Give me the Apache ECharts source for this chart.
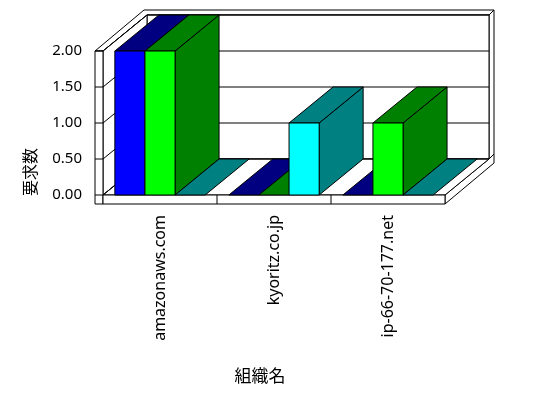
<!DOCTYPE html>
<html>
<head>
<meta charset="utf-8">
<title>組織名 / 要求数</title>
<script src="https://cdn.jsdelivr.net/npm/echarts/dist/echarts.min.js"></script>
<style>
    html, body { margin: 0; padding: 0; background: #fff; }
    #main { width: 548px; height: 398px; }
</style>
</head>
<body>
<div id="main"></div>
<script>
// data
var categories = ['amazonaws.com', 'kyoritz.co.jp', 'ip-66-70-177.net'];
var blueValues = [2, 0, 0];
var limeValues = [2, 0, 1];
var cyanValues = [0, 1, 0];
var yTicks = [0, 0.5, 1, 1.5, 2];

var yMax = 2;
// 3D depth offset of the plot, wall thickness etc (pixels)
var DX = 44, DY = -36;
var TX = 5, TY = -5;
var WALL = 8, FLOOR = 9;

var barSeries = [
    { values: blueValues, front: '#0000ff', dark: '#000080' },
    { values: limeValues, front: '#00ff00', dark: '#008000' },
    { values: cyanValues, front: '#00ffff', dark: '#008080' }
];

// [category, series, value], drawn left to right
var barData = [];
for (var c = 0; c < categories.length; c++) {
    for (var s = 0; s < barSeries.length; s++) {
        barData.push([c, s, barSeries[s].values[c]]);
    }
}

function lineStyle() {
    return { stroke: '#000', lineWidth: 1, fill: null };
}

function renderFrame(params, api) {
    var band = api.size([1, 0])[0];
    var c0 = api.coord([0, 0]);
    var L = c0[0] - band / 2;
    var R = L + band * categories.length;
    var Y0 = c0[1];
    var YT = api.coord([0, yMax])[1];
    var kids = [];
    function poly(pts, fill) {
        kids.push({ type: 'polygon', shape: { points: pts },
            style: { fill: fill || '#fff', stroke: '#000', lineWidth: 1 } });
    }
    function line(x1, y1, x2, y2) {
        kids.push({ type: 'line', shape: { x1: x1, y1: y1, x2: x2, y2: y2 }, style: lineStyle() });
    }
    // top of left wall + back wall
    poly([[L - WALL, YT], [L, YT], [L + DX, YT + DY], [R + DX, YT + DY],
          [R + DX + TX, YT + DY + TY], [L - WALL + DX + TX, YT + DY + TY]]);
    // right side of back wall and floor
    poly([[R, Y0], [R + DX, Y0 + DY], [R + DX, YT + DY], [R + DX + TX, YT + DY + TY],
          [R + DX + TX, Y0 + FLOOR + DY + TY], [R, Y0 + FLOOR]]);
    line(R + DX, Y0 + DY, R + DX + TX, Y0 + DY + TY);
    // back wall
    poly([[L + DX, YT + DY], [R + DX, YT + DY], [R + DX, Y0 + DY], [L + DX, Y0 + DY]]);
    // inner side of left wall
    poly([[L, YT], [L + DX, YT + DY], [L + DX, Y0 + DY], [L, Y0]]);
    // floor
    poly([[L, Y0], [R, Y0], [R + DX, Y0 + DY], [L + DX, Y0 + DY]]);
    // grid lines
    yTicks.forEach(function (v) {
        var y = api.coord([0, v])[1];
        line(L, y, L + DX, y + DY);
        line(L + DX, y + DY, R + DX, y + DY);
    });
    // front faces
    poly([[L - WALL, YT], [L, YT], [L, Y0 + FLOOR], [L - WALL, Y0 + FLOOR]]);
    poly([[L, Y0], [R, Y0], [R, Y0 + FLOOR], [L, Y0 + FLOOR]]);
    yTicks.forEach(function (v) {
        var y = api.coord([0, v])[1];
        line(L - WALL, y, L, y);
    });
    for (var i = 1; i < categories.length; i++) {
        line(L + band * i, Y0, L + band * i, Y0 + FLOOR);
    }
    return { type: 'group', children: kids };
}

function renderBar(params, api) {
    var cat = api.value(0);
    var s = api.value(1);
    var v = api.value(2);
    var band = api.size([1, 0])[0];
    var top = api.coord([cat, v]);
    var base = api.coord([cat, 0]);
    var w = band * 0.264;
    var x = top[0] - 1.5 * w + s * w;
    var yt = top[1], yb = base[1];
    var col = barSeries[s];
    var kids = [];
    var st = function (fill) { return { fill: fill, stroke: '#000', lineWidth: 1 }; };
    if (yb - yt > 0.5) {
        kids.push({ type: 'polygon', shape: { points: [[x + w, yt], [x + w, yb], [x + w + DX, yb + DY], [x + w + DX, yt + DY]] }, style: st(col.dark) });
    }
    kids.push({ type: 'polygon', shape: { points: [[x, yt], [x + w, yt], [x + w + DX, yt + DY], [x + DX, yt + DY]] }, style: st(col.dark) });
    if (yb - yt > 0.5) {
        kids.push({ type: 'rect', shape: { x: x, y: yt, width: w, height: yb - yt }, style: st(col.front) });
    }
    return { type: 'group', children: kids };
}

var myChart = echarts.init(document.getElementById('main'));

var option = {
    animation: false,
    backgroundColor: '#fff',
    grid: { left: 103, right: 103, top: 51, bottom: 203 },
    xAxis: {
        type: 'category',
        data: categories,
        name: '組織名',
        nameLocation: 'middle',
        nameGap: 172,
        nameTextStyle: { fontFamily: 'Noto Sans CJK JP', fontSize: 17, color: '#000', padding: [0, 28, 0, 0] },
        axisLine: { show: false },
        axisTick: { show: false },
        axisLabel: { rotate: 90, margin: 20, fontFamily: 'Noto Sans', fontSize: 16, color: '#000' }
    },
    yAxis: {
        type: 'value',
        min: 0,
        max: yMax,
        interval: 0.5,
        name: '要求数',
        nameLocation: 'middle',
        nameRotate: 90,
        nameGap: 65,
        nameTextStyle: { fontFamily: 'Noto Sans CJK JP', fontSize: 16, color: '#000', padding: [0, 98, 0, 0] },
        axisLine: { show: false },
        axisTick: { show: false },
        splitLine: { show: false },
        axisLabel: {
            margin: 21, fontFamily: 'Noto Sans', fontSize: 15, color: '#000',
            formatter: function (v) { return v.toFixed(2); }
        }
    },
    series: [
        {
            type: 'custom',
            clip: false,
            silent: true,
            data: [[0, 0]],
            encode: { x: 0, y: 1 },
            renderItem: renderFrame
        },
        {
            type: 'custom',
            clip: false,
            data: barData,
            encode: { x: 0, y: 2 },
            renderItem: renderBar
        }
    ]
};
myChart.setOption(option);
</script>
</body>
</html>
